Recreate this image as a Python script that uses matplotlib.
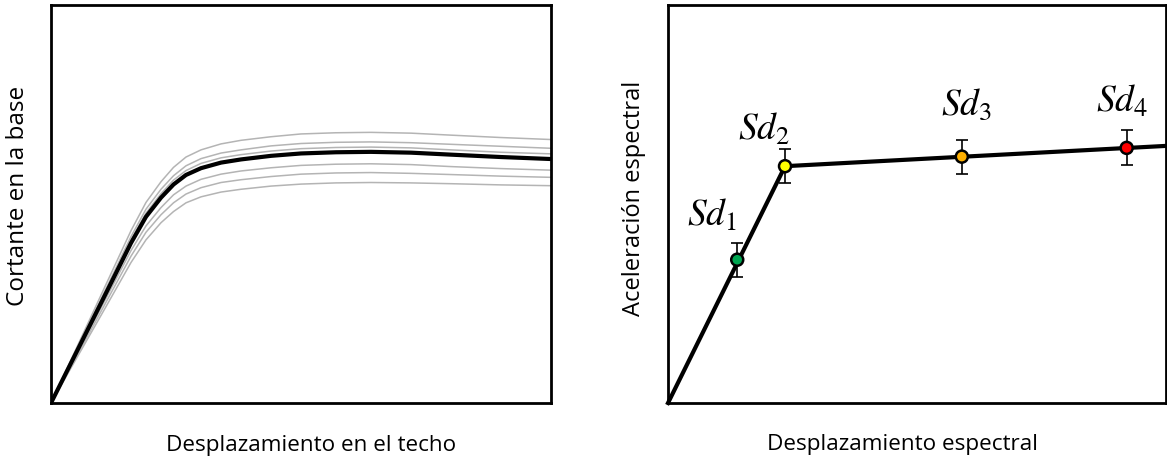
import matplotlib
matplotlib.use("Agg")
import matplotlib.pyplot as plt

# ---- left panel: pushover curves (axis units 0-100, no ticks)
desp_techo = [0, 10, 16, 19, 22, 24.5, 27, 30, 34, 38, 44, 50, 57, 64, 72, 80, 90, 100]
cortante_medio = [0, 25.1, 40.2, 46.8, 51.6, 54.9, 57.3, 59.0, 60.4, 61.2, 62.1, 62.7, 63.0, 63.1, 62.9, 62.4, 61.8, 61.3]
cortante_1 = [0, 27.1, 43.3, 50.4, 55.6, 59.2, 61.8, 63.6, 65.1, 66.0, 66.9, 67.6, 67.9, 68.0, 67.8, 67.3, 66.7, 66.2]
cortante_2 = [0, 26.1, 41.8, 48.7, 53.7, 57.1, 59.6, 61.4, 62.8, 63.6, 64.6, 65.2, 65.5, 65.6, 65.4, 65.0, 64.5, 64.0]
cortante_3 = [0, 25.6, 41.0, 47.7, 52.6, 56.0, 58.4, 60.2, 61.6, 62.4, 63.3, 63.9, 64.2, 64.3, 64.1, 63.6, 63.0, 62.6]
cortante_4 = [0, 23.9, 38.3, 44.5, 49.1, 52.3, 54.5, 56.2, 57.5, 58.3, 59.1, 59.7, 60.0, 60.1, 59.9, 59.4, 58.9, 58.5]
cortante_5 = [0, 23.0, 36.9, 42.9, 47.3, 50.3, 52.5, 54.1, 55.4, 56.1, 56.9, 57.5, 57.8, 57.9, 57.7, 57.4, 57.0, 56.7]
cortante_6 = [0, 22.0, 35.3, 41.0, 45.3, 48.1, 50.3, 51.8, 53.0, 53.7, 54.5, 55.0, 55.3, 55.4, 55.3, 55.1, 54.8, 54.6]
curvas_gris = [cortante_1, cortante_2, cortante_3, cortante_4, cortante_5, cortante_6]

# ---- right panel: bilinear capacity spectrum + damage states
sd_bilineal = [0, 23.5, 100]
sa_bilineal = [0, 59.5, 64.6]
sd_puntos = [13.9, 23.5, 59.0, 92.1]
sa_puntos = [36.0, 59.5, 61.9, 64.1]
sa_error = [4.3, 4.3, 4.3, 4.4]
colores = ["#00a651", "#ffff00", "#ffb000", "#ff0000"]
etiquetas = [r"$Sd_1$", r"$Sd_2$", r"$Sd_3$", r"$Sd_4$"]
etiq_x = [8.8, 19.3, 60.0, 91.2]
etiq_y = [44.8, 66.3, 72.6, 73.4]

plt.rcParams["font.family"] = ["Open Sans", "DejaVu Sans"]
plt.rcParams["mathtext.fontset"] = "stix"

W, H = 1167, 460
fig = plt.figure(figsize=(W / 100, H / 100), dpi=100)

ax1 = fig.add_axes([51 / W, 1 - 404 / H, 500 / W, 398 / H])
ax2 = fig.add_axes([668 / W, 1 - 404 / H, 498 / W, 398 / H])

for ax in (ax1, ax2):
    ax.set_xlim(0, 100)
    ax.set_ylim(0, 100)
    ax.set_xticks([])
    ax.set_yticks([])
    for s in ax.spines.values():
        s.set_linewidth(2.0)
        s.set_color("black")

# left
for c in curvas_gris:
    ax1.plot(desp_techo, c, color="#b4b4b4", lw=1.1, solid_joinstyle="round")
ax1.plot(desp_techo, cortante_medio, color="black", lw=3.0, solid_joinstyle="round")

# right
ax2.plot(sd_bilineal, sa_bilineal, color="black", lw=3.0, clip_on=False)
ax2.errorbar(sd_puntos, sa_puntos, yerr=sa_error, fmt="none", ecolor="black",
             elinewidth=1.2, capsize=4, capthick=1.2, zorder=3)
ax2.scatter(sd_puntos, sa_puntos, s=75, c=colores, edgecolors="black",
            linewidths=1.8, zorder=4)
for tx, ty, t in zip(etiq_x, etiq_y, etiquetas):
    ax2.text(tx, ty, t, ha="center", va="baseline", fontsize=27)

# axis labels
fig.text(311 / W, 1 - 446 / H, "Desplazamiento en el techo", ha="center", va="center", fontsize=16.2)
fig.text(18.5 / W, 1 - 195.5 / H, "Cortante en la base", ha="center", va="center",
         rotation=90, fontsize=17.5)
fig.text(902 / W, 1 - 445 / H, "Desplazamiento espectral", ha="center", va="center", fontsize=16.2)
fig.text(634 / W, 1 - 198.5 / H, "Aceleración espectral", ha="center", va="center",
         rotation=90, fontsize=17)

fig.savefig("out.png", dpi=100)
